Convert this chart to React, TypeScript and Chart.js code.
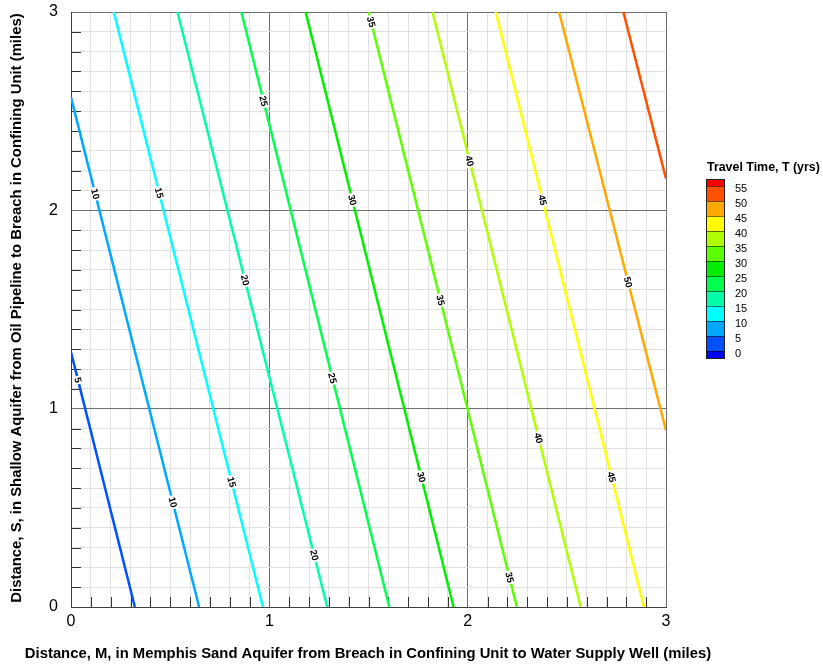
import React, { useEffect, useRef } from 'react';
import { Chart, registerables } from 'chart.js';

Chart.register(...registerables);

// Contour levels (travel time, years)
const levels = [5, 10, 15, 20, 25, 30, 35, 40, 45, 50, 55];
// Contour segment end points (M = miles, S = miles)
const startM = [0, 0, 0.216, 0.537, 0.859, 1.183, 1.501, 1.823, 2.142, 2.461, 2.785];
const startS = [1.285, 2.57, 3, 3, 3, 3, 3, 3, 3, 3, 3];
const endM = [0.322, 0.646, 0.968, 1.292, 1.605, 1.929, 2.248, 2.57, 2.889, 3, 3];
const endS = [0, 0, 0, 0, 0, 0, 0, 0, 0, 0.89, 2.16];
const lineColors = [
  '#0050ff', '#00a8ff', '#00ffff', '#00ffa8', '#00ff50', '#00ee00',
  '#5cff00', '#b0ff00', '#ffff00', '#ffa800', '#ff5000',
];

// Contour label placements (level and S position along the line)
const labelLevels = [5, 10, 10, 15, 15, 20, 20, 25, 25, 30, 30, 35, 35, 35, 40, 40, 45, 45, 50];
const labelS = [1.144, 2.083, 0.528, 2.088, 0.63, 1.648, 0.261, 2.551, 1.154, 2.052, 0.655, 2.95, 1.547, 0.149, 2.249, 0.852, 2.052, 0.655, 1.638];

// Legend
const legendTitle = 'Travel Time, T (yrs)';
const legendLabels = [0, 5, 10, 15, 20, 25, 30, 35, 40, 45, 50, 55];
const legendColors = [
  '#0000ff', '#0050ff', '#00a8ff', '#00ffff', '#00ffa8', '#00ff50', '#00ee00',
  '#5cff00', '#b0ff00', '#ffff00', '#ffa800', '#ff5000', '#ff0000',
];

const xTitle = 'Distance, M, in Memphis Sand Aquifer from Breach in Confining Unit to Water Supply Well (miles)';
const yTitle = 'Distance, S, in Shallow Aquifer from Oil Pipeline to Breach in Confining Unit (miles)';
const axisMin = 0;
const axisMax = 3;
const tickStep = 0.1;

const FONT = "'Liberation Sans', Arial, Helvetica, sans-serif";

const isInt = (v: number) => Math.abs(v - Math.round(v)) < 1e-6;

const innerTicksPlugin = {
  id: 'innerTicks',
  beforeDatasetsDraw(chart: any) {
    const { ctx, chartArea, scales } = chart;
    ctx.save();
    ctx.strokeStyle = '#333';
    ctx.lineWidth = 1;
    ctx.beginPath();
    scales.x.ticks.forEach((t: any) => {
      if (isInt(t.value)) return;
      const px = Math.round(scales.x.getPixelForValue(t.value)) + 0.5;
      ctx.moveTo(px, chartArea.bottom);
      ctx.lineTo(px, chartArea.bottom - 10);
    });
    scales.y.ticks.forEach((t: any) => {
      if (isInt(t.value)) return;
      const py = Math.round(scales.y.getPixelForValue(t.value)) + 0.5;
      ctx.moveTo(chartArea.left, py);
      ctx.lineTo(chartArea.left + 10, py);
    });
    ctx.stroke();
    ctx.restore();
  },
};

const contourLabelPlugin = {
  id: 'contourLabels',
  afterDatasetsDraw(chart: any) {
    const { ctx, scales } = chart;
    ctx.save();
    ctx.font = `bold 9.5px ${FONT}`;
    ctx.textAlign = 'center';
    ctx.textBaseline = 'middle';
    labelLevels.forEach((lev, i) => {
      const k = levels.indexOf(lev);
      const s = labelS[i];
      const f = (startS[k] - s) / (startS[k] - endS[k]);
      const m = startM[k] + f * (endM[k] - startM[k]);
      const px = scales.x.getPixelForValue(m);
      const py = scales.y.getPixelForValue(s);
      const x0 = scales.x.getPixelForValue(startM[k]);
      const y0 = scales.y.getPixelForValue(startS[k]);
      const x1 = scales.x.getPixelForValue(endM[k]);
      const y1 = scales.y.getPixelForValue(endS[k]);
      const ang = Math.atan2(y1 - y0, x1 - x0);
      const txt = String(lev);
      const w = ctx.measureText(txt).width;
      ctx.save();
      ctx.translate(px, py);
      ctx.rotate(ang);
      ctx.fillStyle = '#ffffff';
      ctx.fillRect(-w / 2 - 1.5, -4.5, w + 3, 9);
      ctx.fillStyle = '#000000';
      ctx.fillText(txt, 0, 0.5);
      ctx.restore();
    });
    ctx.restore();
  },
};

const fitText = (ctx: any, text: string, target: number, base: number) => {
  ctx.font = `bold ${base}px ${FONT}`;
  const w = ctx.measureText(text).width;
  const size = base * target / w;
  ctx.font = `bold ${size}px ${FONT}`;
};

const titlesPlugin = {
  id: 'axisTitles',
  afterDraw(chart: any) {
    const { ctx } = chart;
    ctx.save();
    ctx.fillStyle = '#000';
    ctx.textAlign = 'center';
    ctx.textBaseline = 'middle';
    fitText(ctx, xTitle, 687, 13);
    ctx.fillText(xTitle, 368, 654);
    fitText(ctx, yTitle, 590, 13);
    ctx.translate(17, 308);
    ctx.rotate(-Math.PI / 2);
    ctx.fillText(yTitle, 0, 0);
    ctx.restore();
  },
};

const legendPlugin = {
  id: 'colorLegend',
  afterDraw(chart: any) {
    const { ctx } = chart;
    const barL = 706;
    const barW = 18;
    const barTop = 179;
    const bandH = 15;
    const endH = 7;
    ctx.save();
    ctx.fillStyle = '#000';
    ctx.textAlign = 'left';
    ctx.textBaseline = 'middle';
    fitText(ctx, legendTitle, 113, 12);
    ctx.fillText(legendTitle, 707, 168);
    const n = legendColors.length;
    let y = barTop;
    const bounds: number[] = [];
    for (let i = n - 1; i >= 0; i--) {
      const h = i === n - 1 || i === 0 ? endH : bandH;
      ctx.fillStyle = legendColors[i];
      ctx.fillRect(barL, y, barW, h);
      if (i !== 0) bounds.push(y + h);
      y += h;
    }
    ctx.strokeStyle = 'rgba(0,0,0,0.55)';
    ctx.lineWidth = 1;
    ctx.beginPath();
    bounds.forEach((b) => {
      ctx.moveTo(barL, Math.round(b) + 0.5);
      ctx.lineTo(barL + barW, Math.round(b) + 0.5);
    });
    ctx.stroke();
    ctx.strokeStyle = '#222';
    ctx.strokeRect(barL + 0.5, barTop + 0.5, barW, y - barTop);
    ctx.font = `11px ${FONT}`;
    ctx.fillStyle = '#000';
    const labelsTopDown = legendLabels.slice().reverse();
    labelsTopDown.forEach((lab, i) => {
      ctx.fillText(String(lab), 735, bounds[i] + 3);
    });
    ctx.restore();
  },
};

export default function App() {
  const ref = useRef<HTMLCanvasElement | null>(null);
  useEffect(() => {
    if (!ref.current) return;
    Chart.defaults.font.family = FONT;
    Chart.defaults.color = '#000';
    const datasets = levels.map((lev, i) => ({
      label: String(lev),
      data: [
        { x: startM[i], y: startS[i] },
        { x: endM[i], y: endS[i] },
      ],
      showLine: true,
      borderColor: lineColors[i],
      backgroundColor: lineColors[i],
      borderWidth: 2.5,
      pointRadius: 0,
      fill: false,
    }));
    const gridColor = (c: any) => (c.tick && isInt(c.tick.value) ? '#707070' : '#e0e0e0');
    const tickCb = (v: any) => (isInt(Number(v)) ? String(Math.round(Number(v))) : '');
    const chart = new Chart(ref.current, {
      type: 'scatter',
      data: { datasets },
      options: {
        animation: false,
        responsive: false,
        layout: { padding: { left: 0, top: 12, right: 157, bottom: 0 } },
        plugins: { legend: { display: false }, tooltip: { enabled: false } },
        scales: {
          x: {
            type: 'linear',
            min: axisMin,
            max: axisMax,
            ticks: { stepSize: tickStep, autoSkip: false, maxRotation: 0, padding: 5, font: { size: 16 }, color: '#000', callback: tickCb },
            grid: { color: gridColor, lineWidth: 1, drawTicks: false },
            border: { display: true, color: '#404040' },
            title: { display: false },
            afterFit: (s: any) => { s.height = 58; s.paddingLeft = 0; s.paddingRight = 0; },
          },
          y: {
            type: 'linear',
            min: axisMin,
            max: axisMax,
            ticks: { stepSize: tickStep, autoSkip: false, padding: 13, font: { size: 16 }, color: '#000', callback: tickCb },
            grid: { color: gridColor, lineWidth: 1, drawTicks: false },
            border: { display: true, color: '#404040' },
            title: { display: false },
            afterFit: (s: any) => { s.width = 71; s.paddingTop = 0; s.paddingBottom = 0; },
          },
        },
      } as any,
      plugins: [innerTicksPlugin, contourLabelPlugin, titlesPlugin, legendPlugin],
    });
    return () => chart.destroy();
  }, []);
  return (
    <div style={{ position: 'fixed', left: 0, top: 0, width: 823, height: 665, background: '#fff' }}>
      <canvas ref={ref} width={823} height={665} />
    </div>
  );
}
